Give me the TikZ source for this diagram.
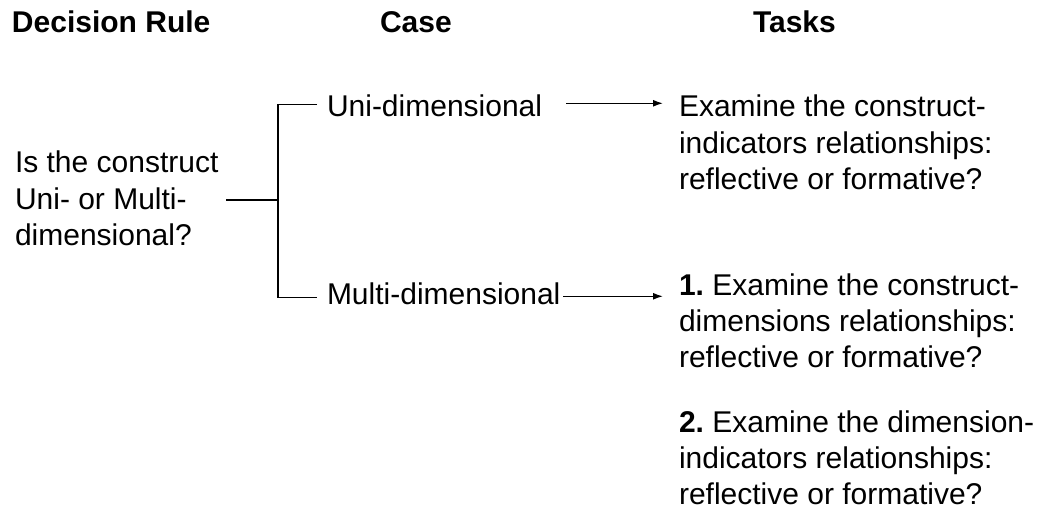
\documentclass[tikz,border=0pt]{standalone}
\usepackage{fontspec}
\setmainfont{Liberation Sans}
\usetikzlibrary{arrows.meta}
\begin{document}
\begin{tikzpicture}[x=1pt,y=-1pt,
  txt/.style={inner sep=0pt, outer sep=0pt, align=left,
    font=\fontsize{30}{36.4}\selectfont\frenchspacing},
  head/.style={inner sep=0pt, outer sep=0pt, anchor=base west,
    font=\fontsize{30}{36}\selectfont\bfseries},
  link/.style={line width=1.4pt},
  arr/.style={line width=1.4pt, -{Latex[length=10pt,width=7pt]}}]
\useasboundingbox (0,0) rectangle (1040,510);
% column headings
\node[head] (hrule)  at (12,33)  {Decision Rule};
\node[head] (hcase)  at (380,33) {Case};
\node[head] (htasks) at (753,33) {Tasks};
% decision rule
\node[txt, anchor=north west] (q) at (15,149)
  {\rule{0pt}{24pt}Is the construct\\Uni- or Multi-\\dimensional?};
% cases
\node[txt, anchor=base west] (uni)   at (327,117) {Uni-dimensional};
\node[txt, anchor=base west] (multi) at (327,305) {Multi-dimensional};
% tasks
\node[txt, anchor=north west] (t1) at (679,93)
  {\rule{0pt}{24pt}Examine the construct-\\indicators relationships:\\reflective or formative?};
\node[txt, anchor=north west] (t2) at (679,271)
  {\rule{0pt}{24pt}\textbf{1.} Examine the construct-\\dimensions relationships:\\reflective or formative?};
\node[txt, anchor=north west] (t3) at (679,408)
  {\rule{0pt}{24pt}\textbf{2.} Examine the dimension-\\indicators relationships:\\reflective or formative?};
% bracket joining the rule to both cases
\coordinate (split) at (278,200);
\draw[link] ([xshift=8pt]q.east |- split) -- (split);
\draw[link] ([xshift=-10pt,yshift=2pt]uni.west) -| (split)
  |- ([xshift=-10pt,yshift=-3pt]multi.west);
% arrows from cases to tasks
\coordinate (s1) at ([xshift=24pt,yshift=3pt]uni.east);
\coordinate (s2) at ([xshift=3pt,yshift=-2pt]multi.east);
\draw[arr] (s1) -- ([xshift=-16pt]t1.west |- s1);
\draw[arr] (s2) -- ([xshift=-16pt]t2.west |- s2);
\end{tikzpicture}
\end{document}
